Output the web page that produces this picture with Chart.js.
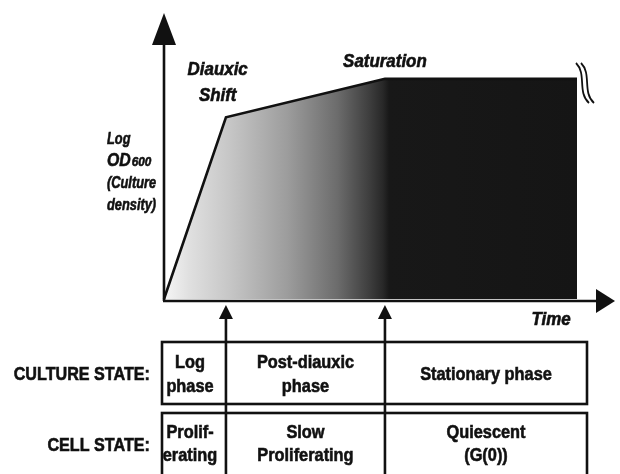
<!DOCTYPE html>
<html>
<head>
<meta charset="utf-8">
<script src="https://cdn.jsdelivr.net/npm/chart.js@4.4.1/dist/chart.umd.min.js"></script>
<style>
  body { margin: 0; background: #fff; }
  canvas { display: block; }
</style>
</head>
<body>
<canvas id="growth-chart" width="620" height="474"></canvas>
<script>

// growth curve (arbitrary time units / log OD600 units)
const timePoints = [0, 1.5, 5.35, 10];
const logOD = [0, 7.1, 8.6, 8.6];

// where the phases change (time units)
const phaseEdges = [1.5, 5.35];

const curveLabels = [
    { lines: ['Diauxic', 'Shift'], t: 1.3, od: 8.75 },
    { lines: ['Saturation'], t: 5.35, od: 9.05 }
];

const yAxisLabel = ['Log', 'OD600', '(Culture', 'density)'];

const cultureStates = [['Log', 'phase'], ['Post-diauxic', 'phase'], ['Stationary phase']];
const cellStates = [['Prolif-', 'erating'], ['Slow', 'Proliferating'], ['Quiescent', '(G(0))']];

const INK = '#111';
const FONT = '"Liberation Sans", Arial, sans-serif';


function drawText(ctx, s, x, y, size, italic, squeeze, align) {
    ctx.save();
    ctx.font = `${italic ? 'italic ' : ''}bold ${size}px ${FONT}`;
    ctx.fillStyle = INK;
    ctx.strokeStyle = INK;
    ctx.lineWidth = 0.6;
    ctx.textAlign = align || 'center';
    ctx.textBaseline = 'alphabetic';
    ctx.translate(x, y);
    ctx.scale(squeeze, 1);
    ctx.fillText(s, 0, 0);
    ctx.strokeText(s, 0, 0);   // a bit heavier, like the original lettering
    ctx.restore();
}

function triangle(ctx, tip, b1, b2) {
    ctx.beginPath();
    ctx.moveTo(tip[0], tip[1]);
    ctx.lineTo(b1[0], b1[1]);
    ctx.lineTo(b2[0], b2[1]);
    ctx.closePath();
    ctx.fill();
}


const diagramPlugin = {
    id: 'diagram',
    afterDraw(chart) {
        const ctx = chart.ctx;
        const xs = chart.scales.x;
        const ys = chart.scales.y;
        const x0 = xs.getPixelForValue(0);
        const y0 = ys.getPixelForValue(0) + 2;

        ctx.save();
        ctx.strokeStyle = INK;
        ctx.fillStyle = INK;
        ctx.lineWidth = 2.6;

        // axes with arrow heads
        ctx.beginPath();
        ctx.moveTo(x0, y0);
        ctx.lineTo(x0, 40);
        ctx.moveTo(x0 - 1, y0);
        ctx.lineTo(598, y0);
        ctx.stroke();
        triangle(ctx, [x0, 13], [x0 - 12, 45], [x0 + 12, 45]);
        triangle(ctx, [615, y0], [596, y0 - 12], [596, y0 + 12]);

        // break marks at the end of the plateau
        ctx.lineWidth = 1.8;
        [0, 5].forEach((dx) => {
            ctx.beginPath();
            ctx.moveTo(576 + dx, 63);
            ctx.bezierCurveTo(587 + dx, 74, 577 + dx, 92, 589 + dx, 103);
            ctx.stroke();
        });

        // labels on the curve
        curveLabels.forEach((lab) => {
            const cx = xs.getPixelForValue(lab.t);
            const cy = ys.getPixelForValue(lab.od);
            lab.lines.forEach((line, i) => {
                drawText(ctx, line, cx, cy + i * 26, 18, true, 0.94);
            });
        });

        // y axis title
        yAxisLabel.forEach((line, i) => {
            const y = 144 + i * 22;
            if (line === 'OD600') {
                drawText(ctx, 'OD', 107, y, 18, true, 0.88, 'left');
                ctx.font = `italic bold 18px ${FONT}`;
                const w = ctx.measureText('OD').width * 0.88;
                drawText(ctx, '600', 107 + w + 1, y, 13, true, 0.9, 'left');
            } else {
                drawText(ctx, line, 107, y, 16, true, 0.8, 'left');
            }
        });

        drawText(ctx, 'Time', 551, 325, 18, true, 0.94);

        // phase boundary arrows (they also split the table)
        ctx.lineWidth = 2.6;
        phaseEdges.forEach((t) => {
            const px = xs.getPixelForValue(t);
            ctx.beginPath();
            ctx.moveTo(px, 314);
            ctx.lineTo(px, 480);
            ctx.stroke();
            triangle(ctx, [px, 305], [px - 7, 319], [px + 7, 319]);
        });

        // table
        const left = 162, right = 587;
        const rows = [[342, 404], [413, 480]];
        rows.forEach((r) => {
            ctx.strokeRect(left, r[0], right - left, r[1] - r[0]);
        });

        const edges = [left, ...phaseEdges.map((t) => xs.getPixelForValue(t)), right];
        const centers = [190, (edges[1] + edges[2]) / 2, (edges[2] + edges[3]) / 2];

        drawText(ctx, 'CULTURE STATE:', 150, 380, 19, false, 0.85, 'right');
        drawText(ctx, 'CELL STATE:', 150, 451, 19, false, 0.85, 'right');

        cultureStates.forEach((lines, i) => {
            if (lines.length === 1) {
                drawText(ctx, lines[0], centers[i], 380, 19, false, 0.86);
            } else {
                drawText(ctx, lines[0], centers[i], 368, 19, false, 0.86);
                drawText(ctx, lines[1], centers[i], 392, 19, false, 0.86);
            }
        });
        cellStates.forEach((lines, i) => {
            drawText(ctx, lines[0], centers[i], 438, 19, false, 0.86);
            drawText(ctx, lines[1], centers[i], 461, 19, false, 0.86);
        });

        ctx.restore();
    }
};


const ctx = document.getElementById('growth-chart').getContext('2d');

new Chart(ctx, {
    type: 'line',
    data: {
        datasets: [{
            data: timePoints.map((t, i) => ({ x: t, y: logOD[i] })),
            borderColor: INK,
            borderWidth: 2.6,
            pointRadius: 0,
            tension: 0,
            clip: false,
            fill: 'origin',
            backgroundColor: (c) => {
                const chart = c.chart;
                if (!chart.chartArea) return '#888';
                const g = chart.ctx.createLinearGradient(chart.chartArea.left, 0, chart.chartArea.right, 0);
                g.addColorStop(0, '#f6f6f6');
                g.addColorStop(0.06, '#e0e0e0');
                g.addColorStop(0.16, '#c6c6c6');
                g.addColorStop(0.3, '#9c9c9c');
                g.addColorStop(0.42, '#6c6c6c');
                g.addColorStop(0.5, '#3c3c3c');
                g.addColorStop(0.53, '#282828');
                g.addColorStop(0.545, '#181818');
                g.addColorStop(1, '#151515');
                return g;
            }
        }]
    },
    options: {
        responsive: false,
        animation: false,
        layout: { padding: { left: 164, right: 43, top: 43, bottom: 175 } },
        plugins: { legend: { display: false }, tooltip: { enabled: false } },
        scales: {
            x: { type: 'linear', min: 0, max: 10, display: false },
            y: { min: 0, max: 10, display: false }
        }
    },
    plugins: [diagramPlugin]
});

</script>
</body>
</html>
